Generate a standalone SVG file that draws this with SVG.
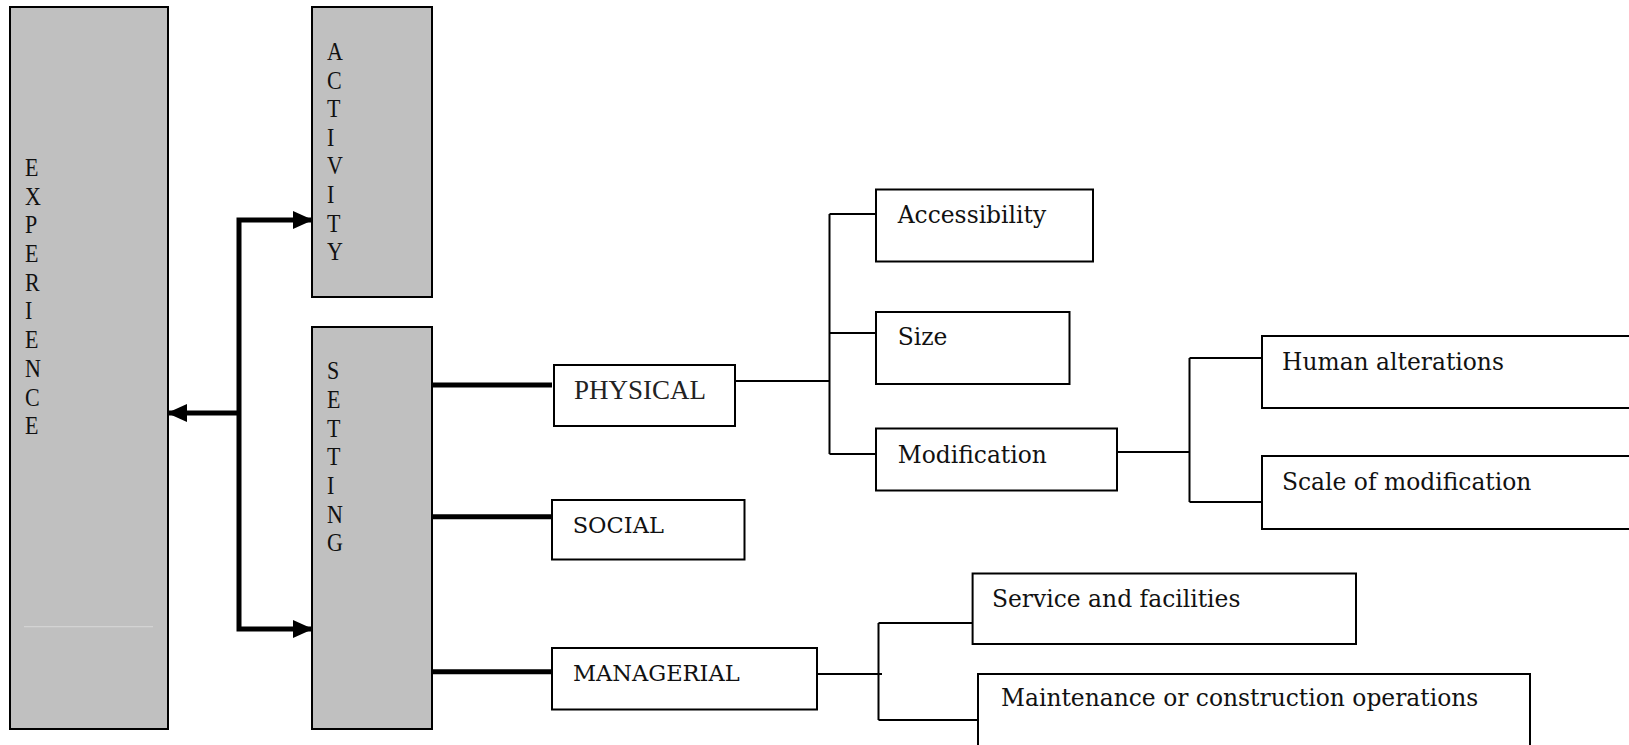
<svg xmlns="http://www.w3.org/2000/svg" width="1629" height="745" viewBox="0 0 1629 745">
<style>
.gray{fill:#c0c0c0;stroke:#000;stroke-width:2}
.box{fill:#fff;stroke:#000;stroke-width:2}
.vl{font-family:"Liberation Serif","Times New Roman",serif;font-size:25px;fill:#111}
.lb{font-family:"DejaVu Serif",serif;font-size:22.5px;fill:#111}
.lb2{font-family:"DejaVu Serif",serif;font-size:23.4px;fill:#111}
.ph{font-family:"Liberation Serif","Times New Roman",serif;font-size:27px;fill:#222}
.thin{fill:none;stroke:#000;stroke-width:2}
.thick{fill:none;stroke:#000;stroke-width:5}
</style>
<defs>
<marker id="ah" markerUnits="userSpaceOnUse" markerWidth="20" markerHeight="18" refX="19" refY="9" orient="auto-start-reverse">
<path d="M0,0 L20,9 L0,18 z" fill="#000"/>
</marker>
</defs>
<g id="experience">
<rect class="gray" x="10" y="7" width="158" height="722"/>
<line x1="24" y1="626.7" x2="153" y2="626.7" stroke="#d8d8d8" stroke-width="1"/>
<g class="vl" transform="translate(25,0) scale(0.88,1)">
<text x="0" y="176">E</text><text x="0" y="204.7">X</text><text x="0" y="233.4">P</text><text x="0" y="262.1">E</text><text x="0" y="290.8">R</text><text x="0" y="319.5">I</text><text x="0" y="348.2">E</text><text x="0" y="376.9">N</text><text x="0" y="405.6">C</text><text x="0" y="434.3">E</text>
</g>
</g>
<g id="activity">
<rect class="gray" x="312" y="7" width="120" height="290"/>
<g class="vl" transform="translate(327,0) scale(0.88,1)">
<text x="0" y="60">A</text><text x="0" y="88.6">C</text><text x="0" y="117.2">T</text><text x="0" y="145.8">I</text><text x="0" y="174.4">V</text><text x="0" y="203">I</text><text x="0" y="231.6">T</text><text x="0" y="260.2">Y</text>
</g>
</g>
<g id="setting">
<rect class="gray" x="312" y="327" width="120" height="402"/>
<g class="vl" transform="translate(327,0) scale(0.88,1)">
<text x="0" y="379.3">S</text><text x="0" y="408">E</text><text x="0" y="436.7">T</text><text x="0" y="465.4">T</text><text x="0" y="494.1">I</text><text x="0" y="522.8">N</text><text x="0" y="551.5">G</text>
</g>
</g>
<g id="physical"><rect class="box" x="554" y="365" width="181" height="61"/><text class="ph" x="574" y="399.3">PHYSICAL</text></g>
<g id="social"><rect class="box" x="552" y="500" width="192.5" height="59.5"/><text class="lb" x="572.7" y="533.3">SOCIAL</text></g>
<g id="managerial"><rect class="box" x="552" y="648" width="265" height="61.5"/><text class="lb" x="573" y="680.7">MANAGERIAL</text></g>
<g id="accessibility"><rect class="box" x="876" y="189.5" width="217" height="72"/><text class="lb2" x="897.7" y="222.7">Accessibility</text></g>
<g id="size"><rect class="box" x="876" y="312" width="193.5" height="72"/><text class="lb2" x="897.7" y="345">Size</text></g>
<g id="modification"><rect class="box" x="876" y="428.5" width="241" height="62"/><text class="lb2" x="897.7" y="462.7">Modification</text></g>
<g id="human-alterations"><rect class="box" x="1262" y="336" width="400" height="72"/><text class="lb2" x="1282" y="370">Human alterations</text></g>
<g id="scale-of-modification"><rect class="box" x="1262" y="456" width="400" height="73"/><text class="lb2" x="1282" y="490">Scale of modification</text></g>
<g id="service"><rect class="box" x="972.6" y="573.5" width="383.4" height="70.5"/><text class="lb2" x="992" y="607.3">Service and facilities</text></g>
<g id="maintenance"><rect class="box" x="978" y="674" width="552" height="80"/><text class="lb2" x="1001" y="706">Maintenance or construction operations</text></g>
<g id="connectors">
<path class="thick" d="M312,220 H239 V629 H312" marker-start="url(#ah)" marker-end="url(#ah)"/>
<path class="thick" d="M239,413 H168" marker-end="url(#ah)"/>
<path class="thick" d="M432,385 H552"/>
<path class="thick" d="M432,516.7 H552"/>
<path class="thick" d="M432,671.7 H552"/>
<path class="thin" d="M735,381 H829.5 M829.5,214 V454 M829.5,214 H876 M829.5,333 H876 M829.5,454 H876"/>
<path class="thin" d="M1117,452 H1189.5 M1189.5,358 V502 M1189.5,358 H1262 M1189.5,502 H1262"/>
<path class="thin" d="M817,674 H882 M878.5,623 V720 M878.5,623 H972.6 M878.5,720 H978"/>
</g>
</svg>
